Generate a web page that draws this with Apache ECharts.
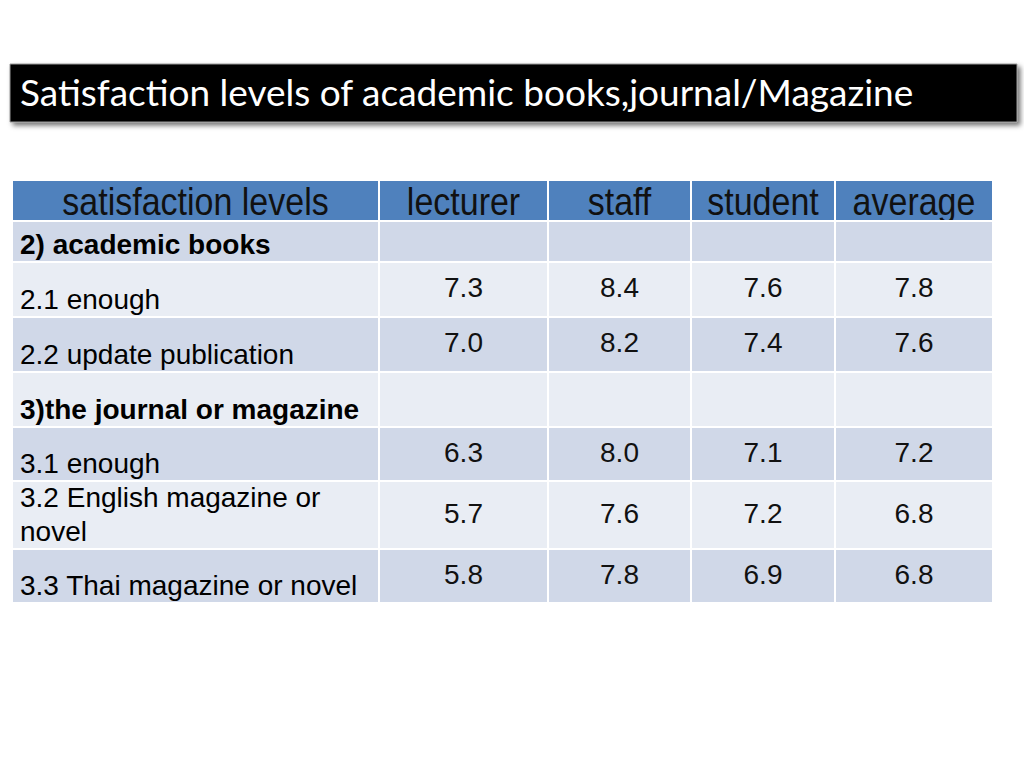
<!DOCTYPE html>
<html>
<head>
<meta charset="utf-8">
<title>Satisfaction levels</title>
<script src="https://cdn.jsdelivr.net/npm/echarts@6/dist/echarts.min.js"></script>
<style>
  html, body { margin: 0; padding: 0; background: #fff; }
  #chart { width: 1024px; height: 768px; }
</style>
</head>
<body>
<div id="chart"></div>
<script>
// table data
const titleText = 'Satisfaction levels of academic books,journal/Magazine'
const columns = ['satisfaction levels', 'lecturer', 'staff', 'student', 'average']
const rowLabels = [
  '2) academic books',
  '2.1 enough',
  '2.2 update publication',
  '3)the journal or magazine',
  '3.1 enough',
  '3.2 English magazine or novel',
  '3.3 Thai magazine or novel'
]
const headingRows = [0, 3] // bold section rows
const lecturer = [null, 7.3, 7.0, null, 6.3, 5.7, 5.8]
const staff = [null, 8.4, 8.2, null, 8.0, 7.6, 7.8]
const student = [null, 7.6, 7.4, null, 7.1, 7.2, 6.9]
const average = [null, 7.8, 7.6, null, 7.2, 6.8, 6.8]

// layout (page pixels, mapped through the hidden value axes)
const colEdges = [12, 379, 548, 691, 835, 993]
const rowEdges = [180, 221, 262, 317, 372, 427, 481, 549, 603]

const valueCols = [lecturer, staff, student, average]

// build cells: [col, row] (row 0 = header)
let cells = []
let cellText = []
columns.forEach((name, c) => {
  cells.push([c, 0])
  cellText.push(name)
})
rowLabels.forEach((label, i) => {
  cells.push([0, i + 1])
  cellText.push(label)
  valueCols.forEach((arr, k) => {
    cells.push([k + 1, i + 1])
    cellText.push(arr[i] == null ? '' : arr[i].toFixed(1))
  })
})

// word wrap like the cell does
const measureCtx = document.createElement('canvas').getContext('2d')
function wrapText(text, font, maxW) {
  measureCtx.font = font
  const words = text.split(' ')
  let lines = []
  let cur = ''
  words.forEach(wd => {
    const test = cur ? cur + ' ' + wd : wd
    if (cur && measureCtx.measureText(test).width > maxW) {
      lines.push(cur)
      cur = wd
    } else {
      cur = test
    }
  })
  lines.push(cur)
  return lines.join('\n')
}

function renderCell(params, api) {
  const c = api.value(0)
  const r = api.value(1)
  const p0 = api.coord([colEdges[c], rowEdges[r]])
  const p1 = api.coord([colEdges[c + 1], rowEdges[r + 1]])
  const w = p1[0] - p0[0]
  const h = p1[1] - p0[1]
  const txt = cellText[params.dataIndex]

  let fill
  if (r === 0) fill = '#4f81bd'
  else fill = r % 2 === 1 ? '#d0d8e8' : '#e9edf4'

  const children = [{
    type: 'rect',
    shape: { x: p0[0], y: p0[1], width: w, height: h },
    style: { fill: fill, stroke: '#ffffff', lineWidth: 2 }
  }]

  if (r === 0) {
    // header: tall narrow font look
    children.push({
      type: 'text',
      x: p0[0] + w / 2,
      y: p0[1] + h / 2 + 1,
      scaleY: 1.15,
      style: {
        text: txt,
        fill: '#111',
        font: '34px "Liberation Sans", Arial, sans-serif',
        align: 'center',
        verticalAlign: 'middle'
      }
    })
  } else if (c === 0) {
    const bold = headingRows.indexOf(r - 1) >= 0
    const font = (bold ? 'bold 28px' : '28px') + ' "Liberation Sans", Arial, sans-serif'
    children.push({
      type: 'text',
      x: p0[0] + 8,
      y: p1[1] - 1,
      style: {
        text: wrapText(txt, font, w - 12),
        fill: '#000',
        font: font,
        align: 'left',
        verticalAlign: 'bottom',
        lineHeight: 34
      }
    })
  } else if (txt) {
    children.push({
      type: 'text',
      x: p0[0] + w / 2,
      y: p0[1] + h / 2 - 2,
      style: {
        text: txt,
        fill: '#111',
        font: '28px "Liberation Sans", Arial, sans-serif',
        align: 'center',
        verticalAlign: 'middle'
      }
    })
  }
  return { type: 'group', children: children }
}

const chart = echarts.init(document.getElementById('chart'), null, { renderer: 'svg' })

const option = {
  animation: false,
  backgroundColor: '#ffffff',
  grid: { left: 0, right: 0, top: 0, bottom: 0 },
  xAxis: { type: 'value', min: 0, max: 1024, show: false },
  yAxis: { type: 'value', min: 0, max: 768, inverse: true, show: false },
  graphic: [
    {
      type: 'rect',
      shape: { x: 10, y: 64, width: 1007, height: 58 },
      style: {
        fill: '#000000',
        stroke: '#9a9a9a',
        lineWidth: 1,
        shadowBlur: 5,
        shadowOffsetX: 3,
        shadowOffsetY: 3,
        shadowColor: 'rgba(0,0,0,0.55)'
      }
    },
    {
      type: 'text',
      x: 20,
      y: 91,
      style: {
        text: titleText,
        fill: '#ffffff',
        font: '37px Lato, "Open Sans", sans-serif',
        verticalAlign: 'middle'
      }
    }
  ],
  series: [
    {
      type: 'custom',
      renderItem: renderCell,
      data: cells,
      encode: { x: 0, y: 1 },
      clip: false,
      silent: true
    }
  ]
}

chart.setOption(option)
window.addEventListener('resize', chart.resize)
</script>
</body>
</html>
